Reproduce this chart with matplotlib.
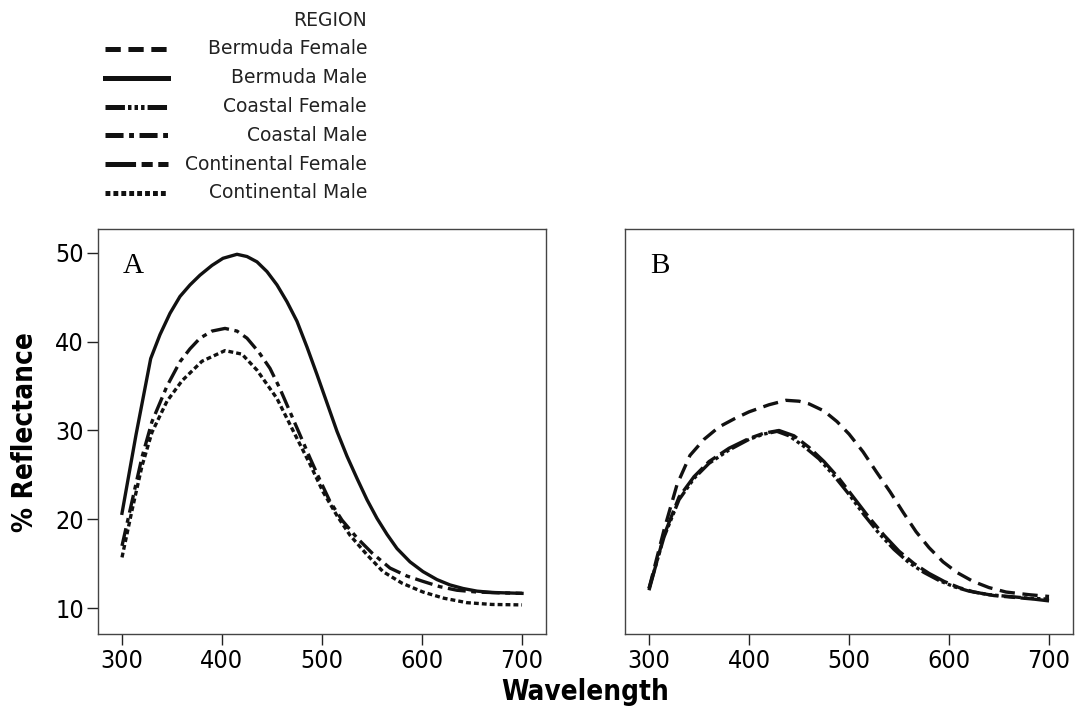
import matplotlib
matplotlib.use("Agg")
import matplotlib.pyplot as plt

# reflectance spectra, panel A (males) and panel B (females)
bm_wl = [300, 314, 328.7, 338, 348, 358, 368, 378, 390, 401, 415, 425, 435, 445, 455, 465,
         475, 485, 495, 505, 515, 525, 535, 545, 555, 565, 575, 588, 601, 615, 628, 641,
         655, 670, 685, 700]
bm_refl = [20.67, 29.5, 38.1, 40.8, 43.2, 45.1, 46.4, 47.5, 48.6, 49.4, 49.85, 49.6, 49.0,
           47.9, 46.4, 44.5, 42.3, 39.4, 36.3, 33.1, 29.9, 27.1, 24.6, 22.2, 20.1, 18.3,
           16.7, 15.2, 14.1, 13.2, 12.6, 12.2, 11.9, 11.75, 11.7, 11.65]

cm_wl = [300, 310, 320, 330, 345, 358, 368, 378, 390, 403, 415, 425, 437, 448, 458, 468,
         478, 488, 498, 508, 520, 535, 550, 568, 585, 601, 618, 635, 655, 680, 700]
cm_refl = [17.0, 22.0, 27.0, 31.0, 35.0, 37.75, 39.2, 40.4, 41.2, 41.5, 41.2, 40.4, 38.8,
           37.0, 34.7, 32.1, 29.5, 26.9, 24.4, 22.0, 19.9, 17.9, 16.2, 14.5, 13.6, 13.0,
           12.4, 12.0, 11.8, 11.7, 11.65]

ctm_wl = [300, 310, 320, 330, 345, 360, 380, 403, 420, 435, 455, 475, 488, 501, 515, 528,
          545, 561, 580, 601, 622, 645, 670, 700]
ctm_refl = [15.7, 21.0, 26.0, 29.8, 33.3, 35.6, 37.8, 39.0, 38.6, 36.8, 33.6, 29.1, 26.2,
            23.1, 20.4, 18.2, 16.0, 14.1, 12.8, 11.8, 11.1, 10.6, 10.4, 10.35]

bf_wl = [300, 315, 328, 341, 355, 370, 385, 400, 420, 437, 450, 460, 475, 488, 500, 514,
         527, 541, 554, 567, 580, 594, 608, 624, 640, 657, 680, 700]
bf_refl = [12.2, 18.8, 23.9, 27.2, 29.0, 30.4, 31.3, 32.1, 32.9, 33.4, 33.3, 33.0, 32.2,
           31.0, 29.6, 27.6, 25.4, 23.1, 20.8, 18.6, 16.8, 15.2, 14.0, 13.0, 12.3, 11.8,
           11.5, 11.3]

cf_wl = [300, 315, 330, 345, 360, 380, 400, 415, 428, 440, 455, 470, 485, 500, 515, 530,
         545, 560, 575, 590, 605, 620, 640, 660, 680, 700]
cf_refl = [12.2, 18.0, 22.2, 24.6, 26.3, 27.8, 29.0, 29.6, 29.9, 29.4, 28.2, 26.8, 24.9,
           22.8, 20.5, 18.4, 16.6, 15.1, 14.0, 13.1, 12.4, 11.9, 11.5, 11.3, 11.1, 11.0]

ctf_wl = [300, 315, 330, 345, 360, 380, 400, 415, 430, 445, 460, 475, 490, 505, 520, 535,
          550, 565, 580, 595, 610, 625, 645, 665, 685, 700]
ctf_refl = [12.0, 18.2, 22.5, 24.8, 26.5, 28.0, 29.1, 29.7, 30.0, 29.4, 28.1, 26.5, 24.6,
            22.4, 20.2, 18.2, 16.4, 15.0, 13.9, 13.0, 12.3, 11.8, 11.4, 11.2, 11.0, 10.8]

regions = ["Bermuda Female", "Bermuda Male", "Coastal Female", "Coastal Male",
           "Continental Female", "Continental Male"]
# dash patterns in points (not scaled by line width)
styles = {
    "Bermuda Female": (0, (11, 5.5)),
    "Bermuda Male": "-",
    "Coastal Female": (0, (14, 2.2, 2.5, 2.2, 2.5, 2.2, 2.5, 2.2)),
    "Coastal Male": (0, (13, 4, 3.5, 4)),
    "Continental Female": (0, (22, 4, 8, 4)),
    "Continental Male": (0, (3.5, 2.2)),
}
plt.rcParams["lines.scale_dashes"] = False

INK = "#111111"
SANS = dict(family="DejaVu Sans", stretch="condensed")

fig = plt.figure(figsize=(10.78, 7.19), dpi=100)
ax_a = fig.add_axes([0.0909, 0.1182, 0.4156, 0.5633])
ax_b = fig.add_axes([0.5798, 0.1182, 0.4156, 0.5633])

ax_a.plot(bm_wl, bm_refl, color=INK, lw=2.4, ls=styles["Bermuda Male"])
ax_a.plot(cm_wl, cm_refl, color=INK, lw=2.4, ls=styles["Coastal Male"])
ax_a.plot(ctm_wl, ctm_refl, color=INK, lw=2.4, ls=styles["Continental Male"])

ax_b.plot(bf_wl, bf_refl, color=INK, lw=2.4, ls=styles["Bermuda Female"])
ax_b.plot(ctf_wl, ctf_refl, color=INK, lw=2.4, ls=styles["Continental Female"])
ax_b.plot(cf_wl, cf_refl, color=INK, lw=2.4, ls=styles["Coastal Female"])

for ax, letter in [(ax_a, "A"), (ax_b, "B")]:
    ax.set_xlim(276, 724)
    ax.set_ylim(7.07, 52.7)
    ax.set_xticks([300, 400, 500, 600, 700])
    ax.set_yticks([10, 20, 30, 40, 50])
    for s in ax.spines.values():
        s.set_color("#444444")
        s.set_linewidth(1.0)
    ax.tick_params(direction="out", length=8, width=1, color="#222222",
                   labelsize=18, pad=3)
    for lab in ax.get_xticklabels() + ax.get_yticklabels():
        lab.set_fontfamily(SANS["family"])
        lab.set_fontstretch(SANS["stretch"])
    ax.text(0.056, 0.891, letter, transform=ax.transAxes, fontsize=21,
            family="Liberation Serif", va="baseline", ha="left")

ax_a.tick_params(axis="y", pad=2)
ax_b.tick_params(axis="y", left=False, labelleft=False)

fig.text(0.023, 0.399, "% Reflectance", rotation=90, ha="center", va="center",
         fontsize=20, fontweight="bold", **SANS)
fig.text(0.543, 0.038, "Wavelength", ha="center", va="center",
         fontsize=20, fontweight="bold", **SANS)

# legend block in pixel coordinates
leg = fig.add_axes([0, 0, 1, 1], zorder=-1)
leg.set_xlim(0, 1078)
leg.set_ylim(719, 0)
leg.axis("off")
leg.text(367, 20, "REGION", ha="right", va="center", fontsize=13.5,
         family="DejaVu Sans", color="#222222")
for i, name in enumerate(regions):
    y = 49 + i * 28.8
    leg.plot([105, 168], [y, y], color=INK, lw=3.6, ls=styles[name])
    leg.text(367, y, name, ha="right", va="center", fontsize=13.5,
             family="DejaVu Sans", color="#222222")

fig.savefig("out.png", dpi=100)
